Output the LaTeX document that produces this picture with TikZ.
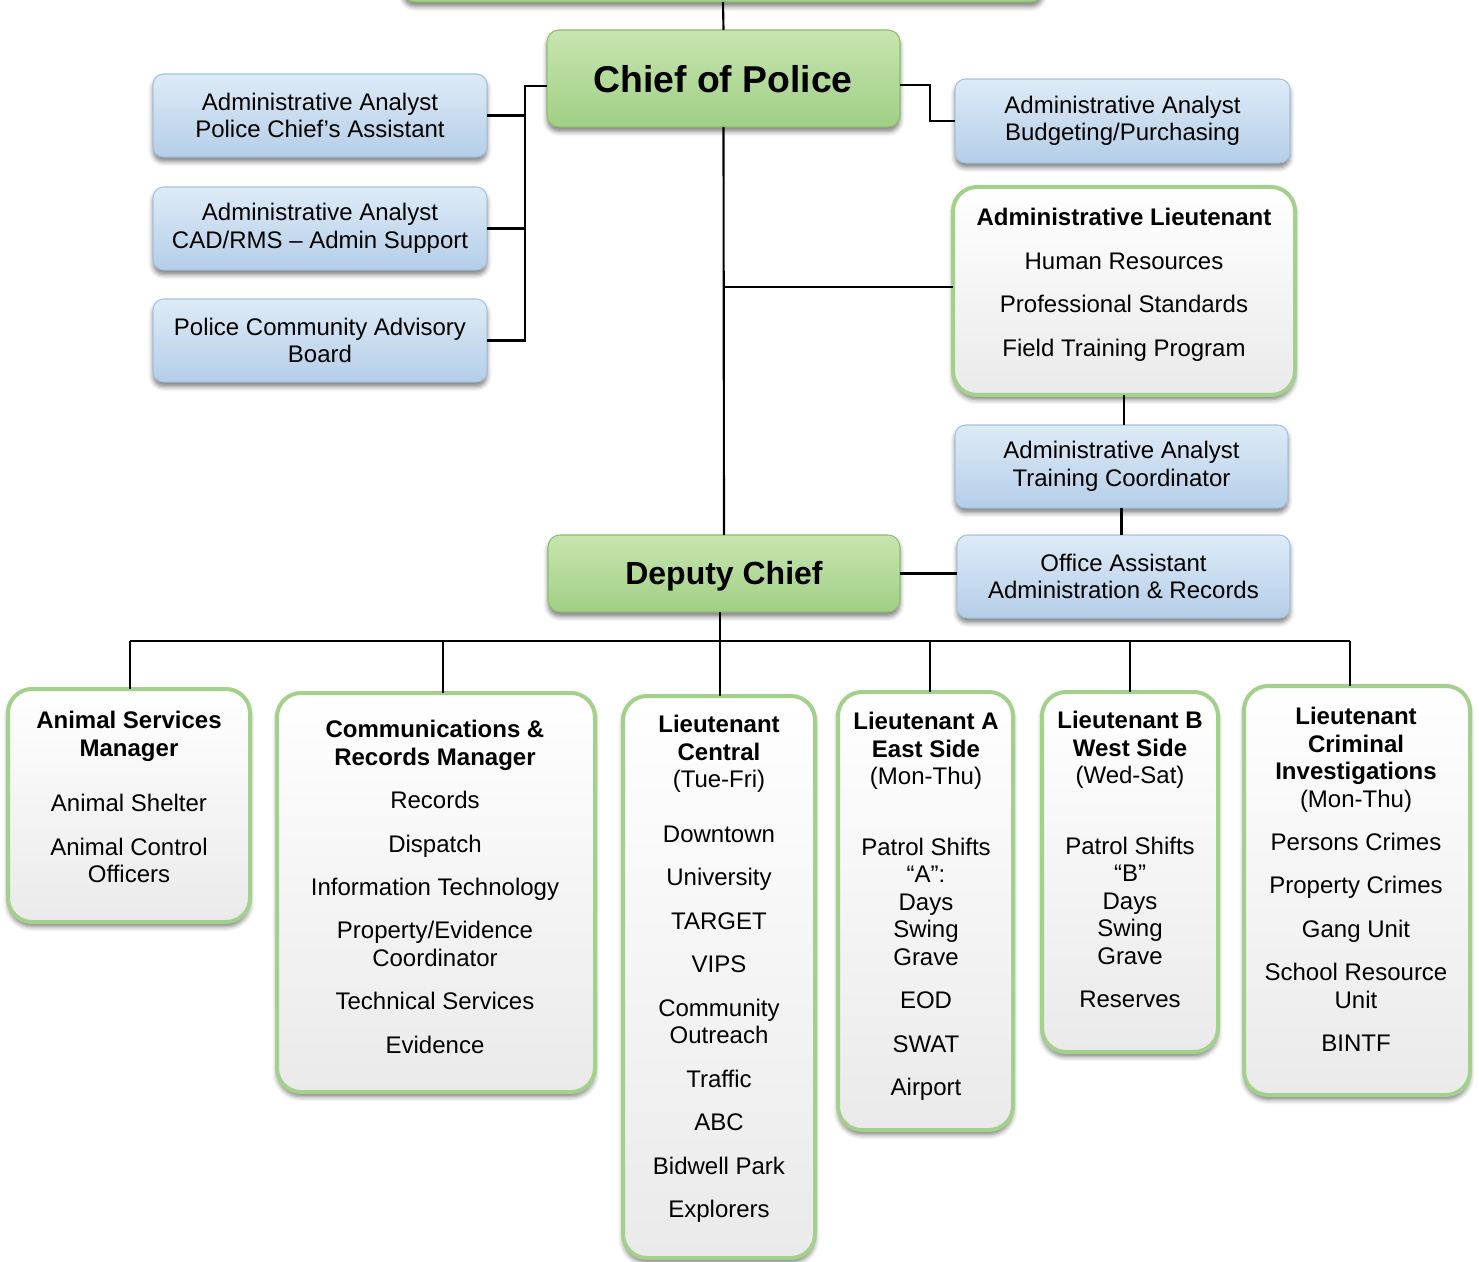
\documentclass[tikz,border=0pt]{standalone}
\usepackage{fontspec}
\setmainfont{Liberation Sans}
\usetikzlibrary{shadows.blur,fit}

\definecolor{gfillT}{HTML}{C8E5B0}
\definecolor{gfillB}{HTML}{A0CF85}
\definecolor{gline}{HTML}{8DBE6E}
\definecolor{bfillT}{HTML}{DEEBF7}
\definecolor{bfillB}{HTML}{B4CEE8}
\definecolor{bline}{HTML}{A6C1DE}
\definecolor{wline}{HTML}{A3D08A}
\definecolor{wfillB}{HTML}{EAEAEA}

\newlength\pg
\setlength\pg{12pt}

\tikzset{
  boxbase/.style={inner sep=0pt, outer sep=0pt,
    blur shadow={shadow xshift=0pt, shadow yshift=-3.5pt,
                 shadow blur radius=3.5pt, shadow opacity=50}},
  greenbox/.style={boxbase, rounded corners=9pt, draw=gline, line width=0.8pt,
    top color=gfillT, bottom color=gfillB},
  bluebox/.style={boxbase, rounded corners=8pt, draw=bline, line width=0.8pt,
    top color=bfillT, bottom color=bfillB},
  unitbox/.style={boxbase, rounded corners=18pt, draw=wline, line width=3pt,
    top color=white, bottom color=wfillB},
  txt/.style={inner sep=0pt, align=center, font=\fontsize{18}{20.6}\selectfont},
  unittxt/.style={txt, anchor=north},
  link/.style={draw=black, line width=1.6pt},
  bus/.style={draw=black, line width=2.2pt}
}

\begin{document}
\begin{tikzpicture}[x=0.75pt, y=-0.75pt]
\useasboundingbox (0,0) rectangle (1479,1262);

% ---- top of the chart -------------------------------------------------
\node[greenbox, fit={(403,-80) (1043,2)}] (top) {};
\node[greenbox, fit={(547,30) (900,127)}] (cop) {};
\node[anchor=base, font=\bfseries\fontsize{28}{32}\selectfont] (copT) at (723,93) {Chief of Police};

% staff boxes on the left
\node[bluebox, fit={(153,74) (487,157)}] (aa1) {};
\node[txt] (aa1T) at (aa1) {Administrative Analyst\\Police Chief’s Assistant};
\node[bluebox, fit={(153,187) (487,270)}] (aa2) {};
\node[txt] (aa2T) at (aa2) {Administrative Analyst\\CAD/RMS – Admin Support};
\node[bluebox, fit={(153,299) (487,382)}] (pcab) {};
\node[txt] (pcabT) at (pcab) {Police Community Advisory\\Board};

% staff boxes on the right
\node[bluebox, fit={(955,79) (1290,163)}] (aab) {};
\node[txt] (aabT) at (aab) {Administrative Analyst\\Budgeting/Purchasing};
\node[unitbox, fit={(953,187) (1295,395)}] (alt) {};
\node[unittxt] (altT) at (1124,208) {\textbf{Administrative Lieutenant}\\[\pg]
  Human Resources\\[\pg]Professional Standards\\[\pg]Field Training Program};
\node[bluebox, fit={(955,425) (1288,508)}] (aatc) {};
\node[txt] (aatcT) at (aatc) {Administrative Analyst\\Training Coordinator};

% ---- deputy level -----------------------------------------------------
\node[greenbox, fit={(548,535) (900,612)}] (dc) {};
\node[anchor=base, font=\bfseries\fontsize{24}{28}\selectfont] (dcT) at (724,585) {Deputy Chief};
\node[bluebox, fit={(957,535) (1290,618)}] (oa) {};
\node[txt] (oaT) at (oa) {Office Assistant\\Administration \& Records};

% ---- units ------------------------------------------------------------
\node[unitbox, fit={(8,689) (250,922)}] (asm) {};
\node[unittxt] (asmT) at (129,711) {\textbf{Animal Services}\\\textbf{Manager}\\[21pt]
  Animal Shelter\\[\pg]Animal Control\\Officers};

\node[unitbox, fit={(277,693) (595,1092)}] (crm) {};
\node[unittxt] (crmT) at (435,720) {\textbf{Communications \&}\\\textbf{Records Manager}\\[\pg]
  Records\\[\pg]Dispatch\\[\pg]Information Technology\\[\pg]Property/Evidence\\Coordinator\\[\pg]
  Technical Services\\[\pg]Evidence};

\node[unitbox, fit={(623,696) (815,1258)}] (ltc) {};
\node[unittxt] (ltcT) at (719,715) {\textbf{Lieutenant}\\\textbf{Central}\\(Tue-Fri)\\[20.6pt]
  Downtown\\[\pg]University\\[\pg]TARGET\\[\pg]VIPS\\[\pg]Community\\Outreach\\[\pg]
  Traffic\\[\pg]ABC\\[\pg]Bidwell Park\\[\pg]Explorers};

\node[unitbox, fit={(838,692) (1013,1130)}] (lta) {};
\node[unittxt] (ltaT) at (926,712) {\textbf{Lieutenant A}\\\textbf{East Side}\\(Mon-Thu)\\[32.6pt]
  Patrol Shifts\\“A”:\\Days\\Swing\\Grave\\[\pg]EOD\\[\pg]SWAT\\[\pg]Airport};

\node[unitbox, fit={(1042,692) (1218,1052)}] (ltb) {};
\node[unittxt] (ltbT) at (1130,711) {\textbf{Lieutenant B}\\\textbf{West Side}\\(Wed-Sat)\\[32.6pt]
  Patrol Shifts\\“B”\\Days\\Swing\\Grave\\[\pg]Reserves};

\node[unitbox, fit={(1244,686) (1470,1095)}] (lci) {};
\node[unittxt] (lciT) at (1356,707) {\textbf{Lieutenant}\\\textbf{Criminal}\\\textbf{Investigations}\\(Mon-Thu)\\[\pg]
  Persons Crimes\\[\pg]Property Crimes\\[\pg]Gang Unit\\[\pg]School Resource\\Unit\\[\pg]BINTF};

% ---- connectors -------------------------------------------------------
\coordinate (jl) at (525,86);
\coordinate (jr) at (930,85);
\coordinate (ja) at (723,287);
\coordinate (jb) at (720,641);
\coordinate (dasm) at (130,641);
\coordinate (dcrm) at (443,641);
\coordinate (dltc) at (720,641);
\coordinate (dlta) at (930,641);
\coordinate (dltb) at (1130,641);
\coordinate (dlci) at (1350,641);

\draw[link] (top.south) -- (cop.north);
\draw[link] (cop.west |- jl) -- (jl) -- (jl |- pcab.east) -- (pcab.east);
\draw[link] (aa1.east) -- (aa1.east -| jl);
\draw[link] (aa2.east) -- (aa2.east -| jl);
\draw[link] (cop.east |- jr) -- (jr) -- (jr |- aab.west) -- (aab.west);
\draw[link] (cop.south) -- (dc.north);
\draw[link] (ja) -- (ja -| alt.west);
\draw[link] (alt.south) -- (alt.south |- aatc.north);
\draw[link] (aatc.south) -- (aatc.south |- oa.north);
\draw[link] (dc.east) -- (dc.east -| oa.west);
\draw[link] (dc.south -| jb) -- (jb);
\draw[bus] (dasm) -- (dlci);
\foreach \u in {asm,crm,ltc,lta,ltb,lci}
  \draw[link] (d\u) -- (d\u |- \u.north);
\end{tikzpicture}
\end{document}
